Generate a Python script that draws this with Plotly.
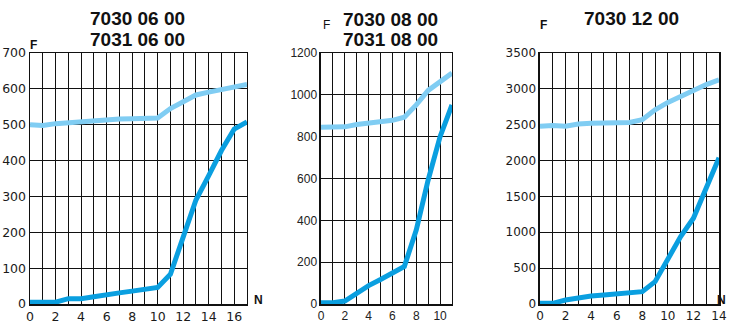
import plotly.graph_objects as go

# Panel 1: 7030 06 00 / 7031 06 00
n1 = list(range(0, 18))
f1_dark = [5, 5, 5, 15, 15, 20, 27, 31, 36, 41, 46, 83, 190, 290, 358, 428, 488, 508]
f1_light = [500, 498, 503, 506, 507, 510, 513, 516, 517, 517, 519, 545, 565, 583, 591, 597, 606, 612]

# Panel 2: 7030 08 00 / 7031 08 00
n2 = list(range(0, 12))
f2_dark = [6, 6, 14, 51, 88, 117, 145, 179, 354, 593, 800, 952]
f2_light = [845, 845, 847, 858, 866, 870, 878, 893, 952, 1021, 1062, 1104]

# Panel 3: 7030 12 00
n3 = list(range(0, 15))
f3_dark = [10, 10, 56, 88, 112, 126, 140, 149, 172, 312, 637, 940, 1196, 1638, 2040]
f3_light = [2478, 2490, 2478, 2510, 2520, 2524, 2530, 2530, 2569, 2708, 2811, 2900, 2988, 3060, 3127]

title_lines = [["7030 06 00", "7031 06 00"], ["7030 08 00", "7031 08 00"], ["7030 12 00"]]

DARK = "#0a9fe0"
LIGHT = "#80cdf3"

fig = go.Figure()

panels = [
    (n1, f1_dark, f1_light, [0.0412, 0.3388], [0, 17], [0, 700], 100, "DejaVu Sans", 12.5, "#1a1a1a", ""),
    (n2, f2_dark, f2_light, [0.4403, 0.6200], [0, 11], [0, 1200], 200, "Liberation Sans", 12, "#222", "2"),
    (n3, f3_dark, f3_light, [0.7407, 0.9863], [0, 14], [0, 3500], 500, "DejaVu Sans", 12, "#1a1a1a", "3"),
]
ydom = [0.0703, 0.8379]

for (nx, dark, light, dom, xr, yr, ydt, fam, fs, fc, sfx) in panels:
    xa = "x" + sfx
    ya = "y" + sfx
    fig.add_trace(go.Scatter(x=nx, y=light, mode="lines", line=dict(color=LIGHT, width=5),
                             xaxis=xa, yaxis=ya, showlegend=False, hoverinfo="skip"))
    fig.add_trace(go.Scatter(x=nx, y=dark, mode="lines", line=dict(color=DARK, width=5),
                             xaxis=xa, yaxis=ya, showlegend=False, hoverinfo="skip"))
    xkey = "xaxis" + sfx
    ykey = "yaxis" + sfx
    fig.update_layout(**{
        xkey: dict(domain=dom, range=xr, anchor=ya, tick0=0, dtick=2, showgrid=True,
                   gridcolor="#111", gridwidth=1, zeroline=False, showline=True,
                   linecolor="#111", linewidth=1.5, mirror=True, automargin=False,
                   minor=dict(dtick=1, tick0=0, showgrid=True, gridcolor="#111", gridwidth=1),
                   tickfont=dict(family=fam, size=fs, color=fc), fixedrange=True),
        ykey: dict(domain=ydom, range=yr, anchor=xa, tick0=0, dtick=ydt, showgrid=True,
                   gridcolor="#111", gridwidth=1, zeroline=False, showline=True,
                   linecolor="#111", linewidth=1.5, mirror=True, automargin=False,
                   tickfont=dict(family=fam, size=fs, color=fc), fixedrange=True),
    })

TF = dict(family="Liberation Sans", size=19, color="#111")
SF = dict(family="Liberation Sans", size=12, color="#111")
annotations = [
    dict(text="<b>" + title_lines[0][0] + "</b>", x=137 / 729, y=1 - 18 / 327, font=TF),
    dict(text="<b>" + title_lines[0][1] + "</b>", x=137 / 729, y=1 - 40 / 327, font=TF),
    dict(text="<b>" + title_lines[1][0] + "</b>", x=390 / 729, y=1 - 19 / 327, font=TF),
    dict(text="<b>" + title_lines[1][1] + "</b>", x=390 / 729, y=1 - 40 / 327, font=TF),
    dict(text="<b>" + title_lines[2][0] + "</b>", x=631 / 729, y=1 - 18 / 327, font=TF),
    dict(text="<b>F</b>", x=33 / 729, y=1 - 45 / 327, font=SF),
    dict(text="F", x=326 / 729, y=1 - 25 / 327, font=SF),
    dict(text="<b>F</b>", x=543 / 729, y=1 - 25 / 327, font=SF),
    dict(text="<b>N</b>", x=258 / 729, y=1 - 300 / 327, font=SF),
    dict(text="<b>N</b>", x=728 / 729, y=1 - 300 / 327, font=SF, xanchor="right"),
]
for a in annotations:
    a.setdefault("xanchor", "center")
    a.update(xref="paper", yref="paper", showarrow=False, yanchor="middle")
fig.update_layout(annotations=annotations)

fig.update_layout(width=729, height=327, margin=dict(l=0, r=0, t=0, b=0),
                  paper_bgcolor="white", plot_bgcolor="white")

fig.write_html("out.html", config={"displayModeBar": False, "staticPlot": True},
               post_script="document.body.style.margin='0px';document.body.style.overflow='hidden';")
